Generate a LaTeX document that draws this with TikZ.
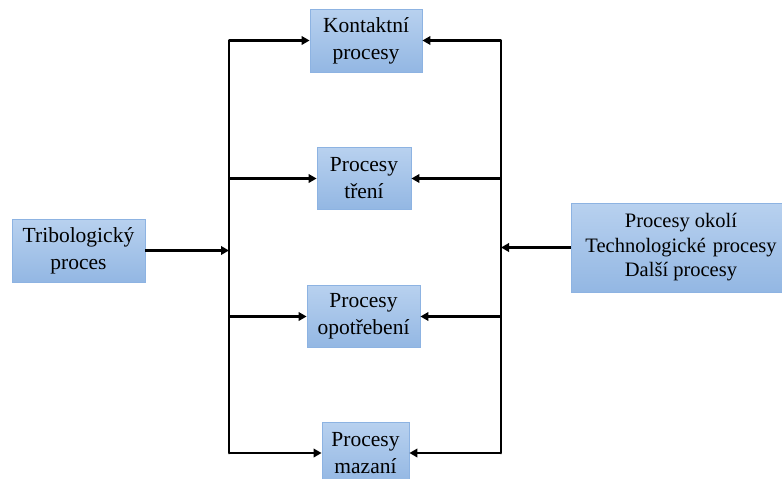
\documentclass[tikz,border=0pt]{standalone}
\usepackage{fontspec}
\setmainfont{Liberation Serif}
\usetikzlibrary{arrows.meta}
\definecolor{boxtop}{HTML}{B8D1EF}
\definecolor{boxbot}{HTML}{93B7E3}
\definecolor{boxline}{HTML}{8DB3E2}
\begin{document}
\begin{tikzpicture}[x=1pt,y=-1pt,
  proc/.style={draw=boxline, line width=0.8pt, top color=boxtop, bottom color=boxbot,
    inner sep=0pt, align=center, font=\fontsize{21.5}{27}\selectfont},
  bus/.style={line width=2.8pt, line join=round, line cap=round},
  link/.style={line width=2.8pt, -{Triangle[length=8pt,width=8.5pt]}}]
\useasboundingbox (0,0) rectangle (782,479);

% process boxes
\node[proc, minimum width=112pt, minimum height=63pt] (k) at (366,40.5) {Kontaktní\\procesy};
\node[proc, minimum width=94pt, minimum height=62pt] (t) at (364,178.5) {Procesy\\tření};
\node[proc, minimum width=113pt, minimum height=62pt] (o) at (363.5,316.5) {Procesy\\opotřebení};
\node[proc, minimum width=87pt, minimum height=62pt] (m) at (365.5,453) {Procesy\\mazaní};
\node[proc, minimum width=133pt, minimum height=63pt] (tr) at (78.5,250.5) {Tribologický\\proces};
\node[proc, minimum width=220pt, minimum height=89pt,
  font=\fontsize{20.5}{24.5}\selectfont] (r) at (681,247.5)
  {Procesy okolí\\Technologické\hspace{7pt}procesy\\Další procesy};

% bus lines
\coordinate (L1) at (229,0 |- k.west);
\coordinate (L4) at (229,0 |- m.west);
\coordinate (R1) at (501,0 |- k.east);
\coordinate (R4) at (501,0 |- m.east);
\draw[bus] (L1) -- (L4);
\draw[bus] (R1) -- (R4);

% left bus feeds the processes
\draw[link] (L1) -- (k.west);
\draw[link] (t.west -| L1) -- (t.west);
\draw[link] (o.west -| L1) -- (o.west);
\draw[link] (L4) -- (m.west);
\draw[link] (tr.east) -- (tr.east -| L1);

% right bus feeds the processes
\draw[link] (R1) -- (k.east);
\draw[link] (t.east -| R1) -- (t.east);
\draw[link] (o.east -| R1) -- (o.east);
\draw[link] (R4) -- (m.east);
\draw[link] (r.west) -- (r.west -| R1);
\end{tikzpicture}
\end{document}
